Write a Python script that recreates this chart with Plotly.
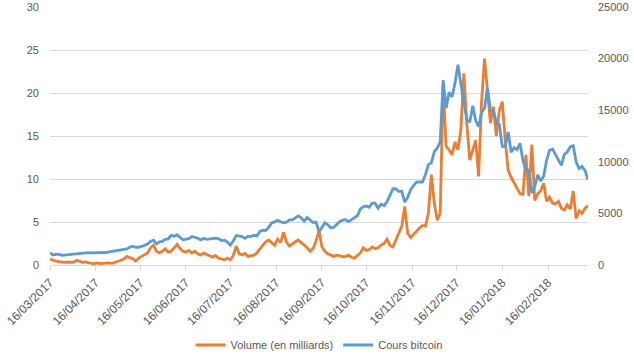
import pandas as pd
import plotly.graph_objects as go

# Sampling dates (every 2 days, 16/03/2017 -> 15/03/2018)
dates = pd.date_range("2017-03-16", "2018-03-15", freq="2D")

volume_mds = [
    0.7, 0.55, 0.45, 0.4, 0.35, 0.3, 0.35, 0.3,
    0.3, 0.55, 0.45, 0.3, 0.35, 0.25, 0.2, 0.15, 0.25, 0.15, 0.2, 0.2, 0.25, 0.2, 0.3,
    0.45, 0.55, 0.7, 1.0, 0.85, 0.75, 0.45, 0.8, 1.0, 1.2, 1.4, 2.0, 2.3, 1.6, 1.4, 1.6,
    1.9, 1.5, 1.6, 2.0, 2.4, 1.9, 1.6, 1.5, 1.7, 1.4, 1.6, 1.3, 1.15, 1.4, 1.2,
    1.0, 0.9, 1.1, 0.8, 0.7, 0.6, 0.8, 0.6, 1.1, 2.2, 1.3, 1.2, 1.35, 1.0, 1.1,
    1.15, 1.4, 1.9, 2.3, 2.7, 2.9, 2.6, 2.3, 3.0, 2.6, 3.8, 2.7, 2.2, 2.5, 2.7, 2.9,
    2.6, 2.4, 2.0, 1.6, 1.9, 2.8, 4.0, 2.1, 1.6, 1.3, 1.1, 1.0, 1.15, 1.1, 0.95,
    1.0, 1.15, 0.9, 0.8, 1.1, 1.4, 2.0, 1.7, 1.8, 2.1, 1.9, 2.0, 2.3, 2.5, 3.0,
    2.3, 2.1, 2.9, 3.5, 4.5, 6.8, 3.7, 3.2, 3.6, 3.9, 4.3, 4.6, 4.5, 6.0, 10.5,
    7.2, 5.2, 6.0, 21.0, 13.8, 13.4, 12.8, 14.3, 13.4, 15.7, 22.3, 16.5, 12.2, 13.4, 14.5, 10.3,
    19.0, 24.0, 20.0, 16.5, 18.4, 15.0, 18.0, 19.0, 14.5, 11.0, 10.2, 9.5, 9.0, 8.3, 8.2,
    12.8, 8.0, 14.0, 7.5, 8.3, 8.6, 9.5, 7.4, 7.9, 7.2, 7.1, 7.4, 6.6, 6.4,
    7.0, 6.5, 8.6, 5.4, 6.3, 6.0, 6.6, 6.9,
]

cours_bitcoin = [
    1180, 970, 1040, 1040, 935, 965, 1045, 1040,
    1080, 1140, 1120, 1190, 1180, 1205, 1170, 1170, 1190, 1210, 1235, 1210, 1265, 1320, 1350,
    1420, 1490, 1520, 1560, 1720, 1820, 1720, 1720, 1800, 1960, 2040, 2290, 2400, 2050, 2250, 2290,
    2490, 2520, 2870, 2790, 2940, 2660, 2440, 2500, 2560, 2760, 2710, 2590, 2430, 2580, 2480,
    2540, 2610, 2610, 2560, 2370, 2400, 2230, 1930, 2330, 2860, 2830, 2760, 2580, 2800, 2760,
    2880, 2810, 3250, 3380, 3340, 3650, 4070, 4180, 4330, 4190, 4090, 4150, 4370, 4380, 4580, 4760,
    4580, 4240, 4600, 4330, 4120, 4160, 3250, 3640, 4100, 3900, 3600, 3660, 3920, 4200, 4360,
    4400, 4210, 4370, 4600, 4770, 5430, 5650, 5710, 5590, 6000, 5990, 5500, 5900, 5750, 6130,
    6740, 7400, 7380, 7140, 7140, 6100, 6560, 7300, 7700, 8040, 8060, 8040, 8750, 9730, 9890,
    10980, 11320, 11920, 17900, 15180, 16730, 16290, 17600, 19400, 17520, 15630, 14100, 13830, 15420, 14000, 13400,
    14750, 15180, 17170, 14980, 14920, 13840, 13640, 11490, 11470, 12900, 10930, 11360, 11170, 11790, 10110,
    9170, 9180, 6960, 7620, 8740, 8130, 8600, 10170, 11110, 11230, 10690, 10300, 9660, 10730,
    10950, 11460, 11570, 9970, 9340, 9550, 9150, 8260,
]

tick_dates = ["2017-03-16", "2017-04-16", "2017-05-16", "2017-06-16", "2017-07-16",
              "2017-08-16", "2017-09-16", "2017-10-16", "2017-11-16", "2017-12-16",
              "2018-01-16", "2018-02-16"]
tick_labels = ["16/03/2017", "16/04/2017", "16/05/2017", "16/06/2017", "16/07/2017",
               "16/08/2017", "16/09/2017", "16/10/2017", "16/11/2017", "16/12/2017",
               "16/01/2018", "16/02/2018"]

assert len(volume_mds) == len(dates) == len(cours_bitcoin), (len(volume_mds), len(cours_bitcoin), len(dates))

GRID = "#D9D9D9"
TXT = "#595959"
FONT = "Liberation Sans"

fig = go.Figure()
fig.add_trace(go.Scatter(x=dates, y=volume_mds, name="Volume (en milliards)",
                         mode="lines", line=dict(color="#ED7D31", width=2.8), yaxis="y"))
fig.add_trace(go.Scatter(x=dates, y=cours_bitcoin, name="Cours bitcoin",
                         mode="lines", line=dict(color="#5B9BD5", width=2.8), yaxis="y2"))

fig.update_layout(
    width=634, height=357,
    margin=dict(l=50, r=46, t=7, b=92, autoexpand=False),
    paper_bgcolor="white", plot_bgcolor="white",
    font=dict(family=FONT, size=11, color=TXT),
    showlegend=True,
    legend=dict(orientation="h", x=0.5, xanchor="center", y=-0.31, yanchor="middle",
                font=dict(family=FONT, size=11, color=TXT), itemwidth=30,
                bgcolor="rgba(0,0,0,0)"),
    xaxis=dict(
        type="date", automargin=False,
        range=["2017-03-16", "2018-03-15"],
        tickvals=tick_dates, ticktext=tick_labels, tickangle=-45,
        showgrid=False, zeroline=False,
        showline=True, linecolor=GRID, linewidth=1,
        ticks="outside", ticklen=5, tickcolor=GRID,
        tickfont=dict(family=FONT, size=12, color=TXT),
    ),
    yaxis=dict(
        automargin=False,
        range=[0, 30], dtick=5, tick0=0,
        showgrid=True, gridcolor=GRID, gridwidth=1,
        zeroline=False, showline=False, ticks="",
        ticklabelstandoff=10,
        tickfont=dict(family=FONT, size=11, color=TXT),
    ),
    yaxis2=dict(
        automargin=False,
        range=[0, 25000], dtick=5000, tick0=0, tickformat="d",
        overlaying="y", side="right",
        showgrid=False, zeroline=False, showline=False, ticks="",
        ticklabelstandoff=9,
        tickfont=dict(family=FONT, size=11, color=TXT),
    ),
)

fig.write_html(
    "out.html",
    config={"displayModeBar": False},
    post_script="document.body.style.margin='0';document.body.style.overflow='hidden';",
)
